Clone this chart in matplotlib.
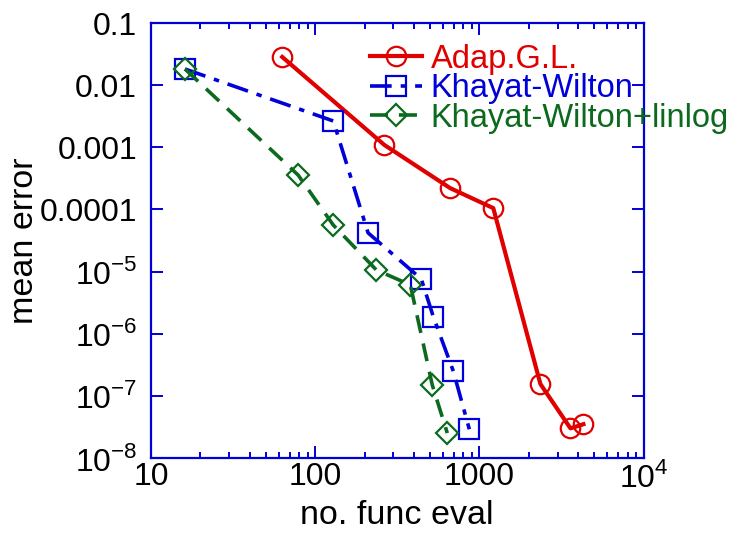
import matplotlib
matplotlib.use("Agg")
import matplotlib.pyplot as plt
from matplotlib.ticker import FixedLocator, FixedFormatter, LogLocator, NullFormatter

plt.rcParams['font.family'] = ['Liberation Sans', 'DejaVu Sans']
plt.rcParams['mathtext.fontset'] = 'custom'
plt.rcParams['mathtext.rm'] = 'Liberation Sans'

# data
adap_x = [63, 264, 665, 1216, 2355, 3590, 4305]
adap_y = [2.84e-2, 1.09e-3, 2.2e-4, 1.05e-4, 1.55e-7, 3.0e-8, 3.5e-8]

kw_x = [16.1, 129, 210, 443, 525, 694, 869]
kw_y = [1.82e-2, 2.65e-3, 4.2e-5, 7.6e-6, 1.86e-6, 2.5e-7, 2.9e-8]

kwl_x = [16.1, 78.7, 129, 236, 380, 517, 638]
kwl_y = [1.82e-2, 3.58e-4, 5.6e-5, 1.06e-5, 6.1e-6, 1.49e-7, 2.52e-8]

ytick_vals = [1e-8, 1e-7, 1e-6, 1e-5, 1e-4, 1e-3, 1e-2, 1e-1]
ytick_labels = ['10$^{-8}$', '10$^{-7}$', '10$^{-6}$', '10$^{-5}$',
                '0.0001', '0.001', '0.01', '0.1']
xtick_vals = [10, 100, 1000, 10000]
xtick_labels = ['10', '100', '1000', '10$^{4}$']

red = '#e00000'
blue = '#0000d8'
green = '#0b6a1e'
axcol = '#0000d8'

fig = plt.figure(figsize=(7.39, 5.35), dpi=100)
ax = fig.add_axes([0.2043, 0.1439, 0.6665, 0.8131])

ax.plot(adap_x, adap_y, '-', color=red, lw=3, marker='o', ms=14,
        mfc='none', mec=red, mew=1.6, label='Adap.G.L.')
ax.plot(kw_x, kw_y, color=blue, lw=2.6, ls=(0, (6, 2.5, 1.5, 2.5)), marker='s',
        ms=14.5, mfc='none', mec=blue, mew=1.6, label='Khayat-Wilton')
ax.plot(kwl_x, kwl_y, color=green, lw=2.6, ls=(0, (5, 3)), marker='D',
        ms=11, mfc='none', mec=green, mew=1.6, label='Khayat-Wilton+linlog')

ax.set_xscale('log')
ax.set_yscale('log')
ax.set_xlim(10, 1e4)
ax.set_ylim(1e-8, 0.1)

ax.xaxis.set_major_locator(FixedLocator(xtick_vals))
ax.xaxis.set_major_formatter(FixedFormatter(xtick_labels))
ax.yaxis.set_major_locator(FixedLocator(ytick_vals))
ax.yaxis.set_major_formatter(FixedFormatter(ytick_labels))
ax.xaxis.set_minor_locator(LogLocator(base=10, subs=range(2, 10)))
ax.yaxis.set_minor_locator(LogLocator(base=10, subs=range(2, 10)))
ax.xaxis.set_minor_formatter(NullFormatter())
ax.yaxis.set_minor_formatter(NullFormatter())

for s in ax.spines.values():
    s.set_color(axcol)
    s.set_linewidth(1.6)
ax.tick_params(which='both', direction='in', top=True, right=True,
               color=axcol, width=1.4, labelsize=23, labelcolor='black')
ax.tick_params(which='major', length=8.5)
ax.tick_params(which='minor', length=4.5)
ax.tick_params(axis='y', which='major', pad=10)
ax.tick_params(axis='x', which='major', pad=3)

ax.set_xlabel('no. func eval', fontsize=24.5, labelpad=4)
ax.set_ylabel('mean error', fontsize=24.5, labelpad=0)

leg = ax.legend(loc='upper left', bbox_to_anchor=(0.445, 0.952), frameon=False,
                fontsize=23.5, handlelength=1.6, handletextpad=0.25,
                labelspacing=-0.05, borderaxespad=0, borderpad=0)
for txt, c in zip(leg.get_texts(), [red, blue, green]):
    txt.set_color(c)

fig.savefig('out.png', dpi=100)
